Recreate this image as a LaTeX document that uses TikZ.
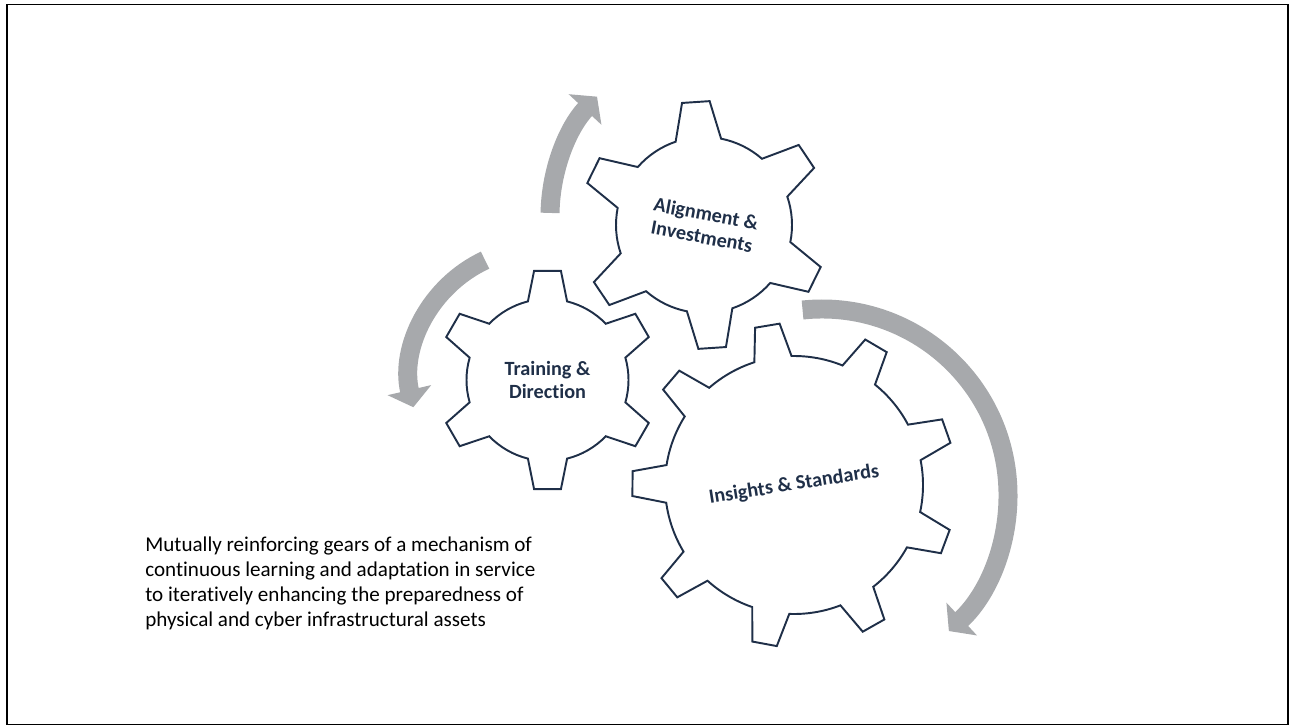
\documentclass[tikz,border=0pt]{standalone}
\usepackage{fontspec}
\setmainfont{Carlito}[Ligatures=NoCommon]
\usetikzlibrary{arrows.meta}

\definecolor{cogline}{RGB}{31,47,72}
\definecolor{turngrey}{RGB}{167,169,172}

% cog outline: #1 centre, #2 teeth, #3 root radius, #4 tip radius,
% #5 angle of first tooth, #6 half width at root, #7 half width at tip (deg)
\newcommand{\cog}[7]{%
  \draw[cogedge,shift={(#1)}] ({#5-#6}:#3)
    \foreach \k in {1,...,#2}{
      -- ({#5+(\k-1)*360/#2-#7}:#4) -- ({#5+(\k-1)*360/#2+#7}:#4)
      -- ({#5+(\k-1)*360/#2+#6}:#3)
      arc[start angle={#5+(\k-1)*360/#2+#6},end angle={#5+\k*360/#2-#6},radius=#3]
    } -- cycle;}

\begin{document}
\begin{tikzpicture}[x=0.02cm,y=0.02cm]
  %----- styles
  \tikzset{
    cogedge/.style ={draw=cogline,line width=1.1pt,line join=miter},
    coglabel/.style={text=cogline,font=\bfseries\fontsize{11.5}{13.2}\selectfont,align=center},
    turn/.style    ={draw=turngrey,line width=10.8pt,-{Triangle[length=10pt,width=25pt]}},
    frame/.style   ={draw=black,line width=0.9pt}
  }

  \useasboundingbox (0,0) rectangle (1290,-726);
  \draw[frame] (7,-4.5) rectangle (1288,-724.5);

  %----- gear centres
  \coordinate (ctrain)   at (547.5,-380);
  \coordinate (calign)   at (704,-225);
  \coordinate (cinsight) at (794,-485);

  %----- gears
  \cog{ctrain}{6}{81}{110}{90}{14}{7}
  \cog{calign}{6}{88}{124}{93.8}{15}{6.4}
  \cog{cinsight}{9}{129}{162}{99.5}{8.4}{4.4}

  \node[coglabel] (train) at (ctrain) {Training \&\\Direction};
  \node[coglabel,rotate=-10.5] (align) at (calign) {Alignment \&\\Investments};
  \node[coglabel,rotate=9] (insight) at (cinsight) {Insights \& Standards};

  %----- turning arrows
  \draw[turn] ([shift={(179:175)}]725,-216) arc[start angle=179,end angle=137,radius=175];
  \draw[turn] ([shift={(115:130)}]540,-378) arc[start angle=115,end angle=193,radius=130];
  \draw[turn] ([shift={(96:186)}]822,-495) arc[start angle=96,end angle=-47,radius=186];

  %----- caption
  \node[anchor=north west,inner sep=0pt,align=left,
        font=\fontsize{12}{14.2}\selectfont] (caption) at (145,-537)
    {Mutually reinforcing gears of a mechanism of\\
     continuous learning and adaptation in service\\
     to iteratively enhancing the preparedness of\\
     physical and cyber infrastructural assets};
\end{tikzpicture}
\end{document}
